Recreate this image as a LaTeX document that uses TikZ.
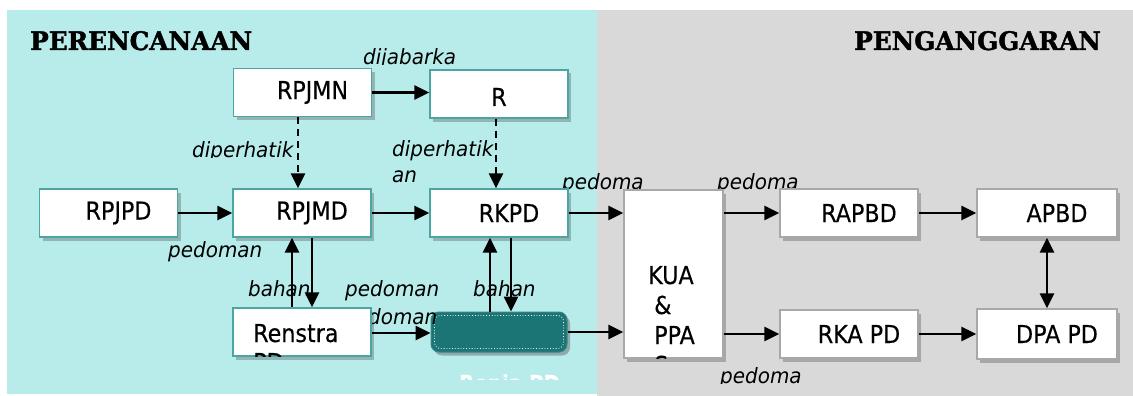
\documentclass[tikz,border=0pt]{standalone}
\usepackage{fontspec}
\usetikzlibrary{arrows.meta,shadows}
\newfontfamily\boxfont[FakeStretch=0.9,FakeBold=0.3]{DejaVu Sans}
\newfontfamily\lblfont[FakeStretch=0.95]{DejaVu Sans}
\newfontfamily\titlefont[FakeStretch=0.97,BoldFeatures={FakeBold=1.5}]{DejaVu Serif}
\definecolor{cyanbg}{RGB}{184,236,235}
\definecolor{greybg}{RGB}{217,217,217}
\definecolor{tealbd}{RGB}{75,165,165}
\definecolor{greybd}{RGB}{168,168,168}
\definecolor{tealfill}{RGB}{27,117,116}
\tikzset{
  box/.style={draw=tealbd, line width=1.4pt, fill=white, minimum width=138pt, minimum height=48pt,
    inner sep=0pt, font=\boxfont\fontsize{24.7}{29}\selectfont,
    drop shadow={shadow xshift=3pt, shadow yshift=-3.5pt, opacity=0.35, fill=black!70}},
  gbox/.style={box, draw=greybd},
  arr/.style={line width=2.6pt, -{Triangle[length=15pt,width=14pt]}},
  darr/.style={line width=2.6pt, {Triangle[length=15pt,width=14pt]}-{Triangle[length=15pt,width=14pt]}},
  dasharr/.style={arr, dash pattern=on 7pt off 5pt},
  lbl/.style={font=\lblfont\itshape\fontsize{21}{24}\selectfont, inner sep=0pt, anchor=base west},
  ttl/.style={font=\titlefont\bfseries\fontsize{25.5}{28}\selectfont, inner sep=0pt, anchor=base west},
  txt/.style={font=\boxfont\fontsize{24.7}{29}\selectfont, inner sep=0pt, anchor=base west}
}
\begin{document}
\begin{tikzpicture}[x=1pt,y=-1pt]
\useasboundingbox (0,0) rectangle (1133,396);
\fill[white] (0,0) rectangle (1133,396);
\fill[cyanbg] (7,10) rectangle (597,394);
\fill[greybg] (597,10) rectangle (1133,396);
% titles
\node[ttl] (t1) at (30,50) {PERENCANAAN};
\node[ttl] (t2) at (854,50) {PENGANGGARAN};
% labels (behind boxes)
\begin{scope}
\clip (350,40) rectangle (470,64.5);
\node[lbl] (l1) at (363,65) {dijabarka};
\end{scope}
\begin{scope}
\clip (180,130) rectangle (295,157.5);
\node[lbl] (l2) at (192,157) {diperhatik};
\end{scope}
\node[lbl] (l3) at (392,156) {diperhatik};
\node[lbl] (l4) at (392,182) {an};
\begin{scope}
\clip (550,165) rectangle (650,189.5);
\node[lbl] (l5) at (562,189) {pedoma};
\end{scope}
\begin{scope}
\clip (705,165) rectangle (810,189.5);
\node[lbl] (l6) at (717,189) {pedoma};
\end{scope}
\begin{scope}
\clip (705,360) rectangle (810,383.5);
\node[lbl] (l7) at (720,383) {pedoma};
\end{scope}
\node[lbl] (l8) at (168,257) {pedoman};
\node[lbl] (l9) at (248,296) {bahan};
\node[lbl] (l10) at (345,296) {pedoman};
\node[lbl] (l12) at (473,296) {bahan};
% Renja box (under the second pedoman label)
\node[draw=tealbd!80!black, line width=1pt, fill=tealfill, rounded corners=8pt, minimum width=136pt, minimum height=40pt,
  drop shadow={shadow xshift=3pt, shadow yshift=-3.5pt, opacity=0.4, fill=black!70}] (renja) at (499,332) {};
\draw[white, line width=0.8pt, dotted, rounded corners=6pt] (434.5,315.5) rectangle (563.5,348.5);
\begin{scope}
\clip (440,360) rectangle (580,379);
\node[font=\boxfont\bfseries\fontsize{22}{24}\selectfont, text=white, inner sep=0pt, anchor=base west] at (459,391) {Renja PD};
\end{scope}
\node[lbl] (l11) at (343,324) {pedoman};
% boxes
\node[box] (rpjmn) at (302.5,92.5) {\hspace*{20pt}RPJMN};
\node[box] (rkp) at (499,94) {};
\node[txt, anchor=base] at (499,106) {R};
\node[box] (rpjpd) at (108.5,213) {\hspace*{20pt}RPJPD};
\node[box] (rpjmd) at (302,213) {\hspace*{20pt}RPJMD};
\node[box] (rkpd) at (499,213) {\hspace*{20pt}RKPD};
\node[box] (renstra) at (302,332) {};
\begin{scope}
\clip (233,308) rectangle (371,356);
\node[txt] at (253,342) {Renstra};
\node[txt] at (253,371) {PD};
\end{scope}
\node[gbox, minimum width=99pt, minimum height=168pt] (kua) at (673.5,274) {};
\begin{scope}
\clip (624,190) rectangle (723,358);
\node[txt] at (648,284) {KUA};
\node[txt] at (654,314) {\&};
\node[txt] at (654,344) {PPA};
\node[txt] at (654,374) {S};
\end{scope}
\node[gbox] (rapbd) at (849,213) {\hspace*{20pt}RAPBD};
\node[gbox, minimum width=140pt] (apbd) at (1047,213) {\hspace*{20pt}APBD};
\node[gbox] (rkapd) at (849,334) {\hspace*{20pt}RKA PD};
\node[gbox, minimum width=140pt, minimum height=50pt] (dpapd) at (1047,334) {\hspace*{20pt}DPA PD};
% connectors
\draw[arr] (rpjmn.east) -- (rkp.west |- rpjmn.east);
\draw[dasharr] ([xshift=-4.5pt]rpjmn.south) -- ([xshift=-4pt]rpjmd.north);
\draw[dasharr] ([xshift=-3pt]rkp.south) -- ([xshift=-3pt]rkpd.north);
\draw[arr] (rpjpd.east) -- (rpjmd.west);
\draw[arr] (rpjmd.east) -- (rkpd.west);
\draw[arr] (rkpd.east) -- (kua.west |- rkpd.east);
\draw[arr] (kua.east |- rapbd.west) -- (rapbd.west);
\draw[arr] (rapbd.east) -- (apbd.west);
\draw[darr] (apbd.south) -- (dpapd.north);
\draw[arr] ([xshift=-10pt]renstra.north) -- ([xshift=-10pt]rpjmd.south);
\draw[arr] ([xshift=10pt]rpjmd.south) -- ([xshift=10pt]renstra.north);
\draw[arr] ([xshift=-9pt]renja.north) -- ([xshift=-9pt]rkpd.south);
\draw[arr] ([xshift=12pt]rkpd.south) -- ([xshift=12pt]renja.north);
\draw[arr] ([yshift=-1pt]renstra.east) -- ([yshift=-1pt]renja.west);
\draw[arr] (renja.east) -- (kua.west |- renja.east);
\draw[arr] (kua.east |- rkapd.west) -- (rkapd.west);
\draw[arr] (rkapd.east) -- (dpapd.west);
\end{tikzpicture}
\end{document}
